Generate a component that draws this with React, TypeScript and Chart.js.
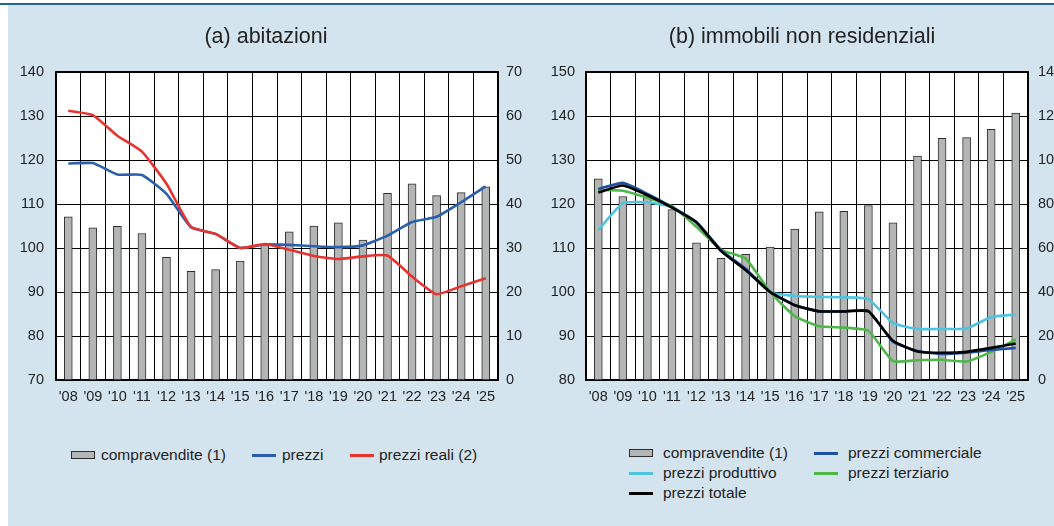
import React, { useEffect, useRef } from "react";
import { Chart, registerables } from "chart.js";

Chart.register(...registerables);

const years = ["'08", "'09", "'10", "'11", "'12", "'13", "'14", "'15", "'16", "'17", "'18", "'19", "'20", "'21", "'22", "'23", "'24", "'25"];

const aCompravendite = [37.1, 34.6, 34.9, 33.3, 27.9, 24.7, 25.1, 27.0, 30.8, 33.7, 35.0, 35.7, 31.8, 42.4, 44.6, 41.9, 42.6, 43.9];
const aPrezzi = [119.2, 119.3, 116.7, 116.6, 112.3, 104.7, 103.2, 100.0, 100.8, 100.7, 100.4, 100.2, 100.6, 102.8, 105.9, 107.1, 110.4, 114.0];
const aPrezziReali = [131.2, 130.2, 125.5, 121.9, 114.6, 104.8, 103.2, 100.0, 100.9, 99.6, 98.2, 97.5, 98.1, 98.3, 93.5, 89.5, 91.3, 93.1];

const bCompravendite = [91.4, 83.4, 84.1, 77.5, 62.4, 55.3, 57.1, 60.4, 68.6, 76.4, 76.7, 79.3, 71.4, 101.8, 109.8, 110.2, 113.9, 121.3];
const bCommerciale = [123.4, 124.8, 122.3, 119.3, 115.9, 109.5, 105.3, 100.0, 97.0, 95.6, 95.6, 95.7, 88.7, 86.6, 85.9, 86.2, 86.8, 87.3];
const bProduttivo = [114.1, 120.2, 120.4, 119.3, 115.8, 109.6, 105.0, 99.9, 99.1, 98.9, 98.8, 98.4, 93.0, 91.6, 91.6, 91.7, 94.3, 94.9];
const bTerziario = [123.2, 123.0, 121.4, 119.5, 114.8, 109.6, 107.6, 100.0, 94.5, 92.2, 91.9, 91.2, 84.3, 84.5, 84.6, 84.2, 86.4, 89.2];
const bTotale = [122.6, 124.2, 122.0, 119.2, 115.8, 109.3, 105.0, 100.0, 97.0, 95.6, 95.6, 95.6, 88.9, 86.5, 86.2, 86.4, 87.3, 88.3];

const aLeftRange = [70, 140, 10];
const aRightRange = [0, 70, 10];
const bLeftRange = [80, 150, 10];
const bRightRange = [0, 140, 20];

const FONT = "'Liberation Sans', Arial, Helvetica, sans-serif";
const BG = "#d4e4ee";
const BAR_FILL = "#b4b6b5";
const BAR_BORDER = "#2e2e2e";
const C_BLUE = "#2b5fae";
const C_RED = "#e8332f";
const C_COMM = "#1f4f9f";
const C_PROD = "#4fc3e2";
const C_TERZ = "#4db848";
const C_TOT = "#000000";

const whiteArea = {
  id: "whiteArea",
  beforeDraw(chart: any) {
    const { ctx, chartArea } = chart;
    ctx.save();
    ctx.fillStyle = "#ffffff";
    ctx.fillRect(chartArea.left, chartArea.top, chartArea.right - chartArea.left, chartArea.bottom - chartArea.top);
    ctx.restore();
  },
};

function makeConfig(
  bars: number[],
  lines: { label: string; data: number[]; color: string; order: number }[],
  left: number[],
  right: number[],
  leftW: number,
  rightW: number,
  leftPad: number,
  rightPad: number
): any {
  const lastIdx = Math.round((left[1] - left[0]) / left[2]);
  return {
    type: "bar",
    data: {
      labels: years,
      datasets: [
        {
          type: "bar",
          label: "compravendite (1)",
          data: bars,
          xAxisID: "x",
          yAxisID: "yR",
          backgroundColor: BAR_FILL,
          borderColor: BAR_BORDER,
          borderWidth: 1,
          barThickness: 8,
          order: 10,
        },
        ...lines.map((l) => ({
          type: "line",
          label: l.label,
          data: l.data,
          xAxisID: "x",
          yAxisID: "yL",
          borderColor: l.color,
          backgroundColor: l.color,
          borderWidth: 2.6,
          pointRadius: 0,
          tension: 0.15,
          fill: false,
          order: l.order,
        })),
      ],
    },
    options: {
      responsive: false,
      animation: false,
      devicePixelRatio: 1,
      layout: { padding: { top: 72, left: 0, right: 0, bottom: 0 } },
      plugins: { legend: { display: false }, title: { display: false }, tooltip: { enabled: false } },
      scales: {
        x: {
          type: "category",
          offset: true,
          grid: {
            display: true,
            drawOnChartArea: true,
            color: "#000000",
            lineWidth: 1,
            offset: true,
            drawTicks: false,
          },
          border: { display: true, color: "#000", width: 2 },
          ticks: { color: "#222", font: { family: FONT, size: 14.5 }, padding: 8, maxRotation: 0, autoSkip: false },
          afterFit: (s: any) => {
            s.height = 40;
          },
        },
        yL: {
          type: "linear",
          position: "left",
          min: left[0],
          max: left[1],
          ticks: { stepSize: left[2], color: "#222", font: { family: FONT, size: 14.5 }, padding: leftPad },
          grid: {
            color: "#000",
            lineWidth: (c: any) => (c.index === lastIdx ? 2 : 1),
            drawTicks: false,
          },
          border: { color: "#000", width: 2 },
          afterFit: (s: any) => {
            s.width = leftW;
          },
        },
        yR: {
          type: "linear",
          position: "right",
          min: right[0],
          max: right[1],
          ticks: { stepSize: right[2], color: "#222", font: { family: FONT, size: 14.5 }, padding: rightPad },
          grid: { drawOnChartArea: false, drawTicks: false },
          border: { color: "#000", width: 2 },
          afterFit: (s: any) => {
            s.width = rightW;
          },
        },
      },
    },
    plugins: [whiteArea],
  };
}

function ChartCanvas({ config, left }: { config: () => any; left: number }) {
  const ref = useRef<HTMLCanvasElement | null>(null);
  useEffect(() => {
    if (!ref.current) return;
    const chart = new Chart(ref.current, config());
    return () => chart.destroy();
  }, []);
  return (
    <canvas
      ref={ref}
      width={527}
      height={420}
      style={{ position: "absolute", left, top: 0, width: 527, height: 420 }}
    />
  );
}

type LegendItem = { x: number; y: number; tx: number; kind: "box" | "line"; color: string; label: string };

const legendA: LegendItem[] = [
  { x: 71, y: 455, tx: 101, kind: "box", color: BAR_FILL, label: "compravendite (1)" },
  { x: 252, y: 455, tx: 282, kind: "line", color: C_BLUE, label: "prezzi" },
  { x: 350, y: 455, tx: 379, kind: "line", color: C_RED, label: "prezzi reali (2)" },
];
const legendB: LegendItem[] = [
  { x: 629, y: 453, tx: 663, kind: "box", color: BAR_FILL, label: "compravendite (1)" },
  { x: 814, y: 453, tx: 848, kind: "line", color: C_COMM, label: "prezzi commerciale" },
  { x: 629, y: 473, tx: 663, kind: "line", color: C_PROD, label: "prezzi produttivo" },
  { x: 814, y: 473, tx: 848, kind: "line", color: C_TERZ, label: "prezzi terziario" },
  { x: 629, y: 493, tx: 663, kind: "line", color: C_TOT, label: "prezzi totale" },
];

function Legend({ items }: { items: LegendItem[] }) {
  return (
    <>
      {items.map((it, i) => (
        <React.Fragment key={i}>
          {it.kind === "box" ? (
            <div
              style={{
                position: "absolute",
                left: it.x,
                top: it.y - 4,
                width: 22,
                height: 6,
                background: it.color,
                border: `1px solid ${BAR_BORDER}`,
              }}
            />
          ) : (
            <div
              style={{
                position: "absolute",
                left: it.x,
                top: it.y - 1.5,
                width: 24,
                height: 3,
                background: it.color,
              }}
            />
          )}
          <div
            style={{
              position: "absolute",
              left: it.tx,
              top: it.y - 10,
              height: 20,
              lineHeight: "20px",
              fontFamily: FONT,
              fontSize: 15.5,
              color: "#222",
              whiteSpace: "nowrap",
            }}
          >
            {it.label}
          </div>
        </React.Fragment>
      ))}
    </>
  );
}

export default function App() {
  const cfgA = () =>
    makeConfig(
      aCompravendite,
      [
        { label: "prezzi", data: aPrezzi, color: C_BLUE, order: 2 },
        { label: "prezzi reali (2)", data: aPrezziReali, color: C_RED, order: 1 },
      ],
      aLeftRange,
      aRightRange,
      56,
      29,
      12,
      8
    );
  const cfgB = () =>
    makeConfig(
      bCompravendite,
      [
        { label: "prezzi commerciale", data: bCommerciale, color: C_COMM, order: 2 },
        { label: "prezzi produttivo", data: bProduttivo, color: C_PROD, order: 4 },
        { label: "prezzi terziario", data: bTerziario, color: C_TERZ, order: 3 },
        { label: "prezzi totale", data: bTotale, color: C_TOT, order: 1 },
      ],
      bLeftRange,
      bRightRange,
      59,
      26,
      11,
      10
    );
  const titleStyle: React.CSSProperties = {
    position: "absolute",
    top: 22,
    height: 29,
    lineHeight: "29px",
    fontFamily: FONT,
    fontSize: 21.5,
    color: "#222",
    whiteSpace: "nowrap",
    transform: "translateX(-50%)",
  };
  return (
    <div style={{ position: "absolute", left: 0, top: 0, width: 1054, height: 526, overflow: "hidden", background: "#fff" }}>
      <div style={{ position: "absolute", left: 0, top: 3, width: 1054, height: 2, background: "#236593" }} />
      <div style={{ position: "absolute", left: 8, top: 5, width: 1046, height: 521, background: BG }} />
      <ChartCanvas config={cfgA} left={0} />
      <ChartCanvas config={cfgB} left={527} />
      <div style={{ ...titleStyle, left: 266 }}>(a) abitazioni</div>
      <div style={{ ...titleStyle, left: 802 }}>(b) immobili non residenziali</div>
      <Legend items={legendA} />
      <Legend items={legendB} />
    </div>
  );
}
